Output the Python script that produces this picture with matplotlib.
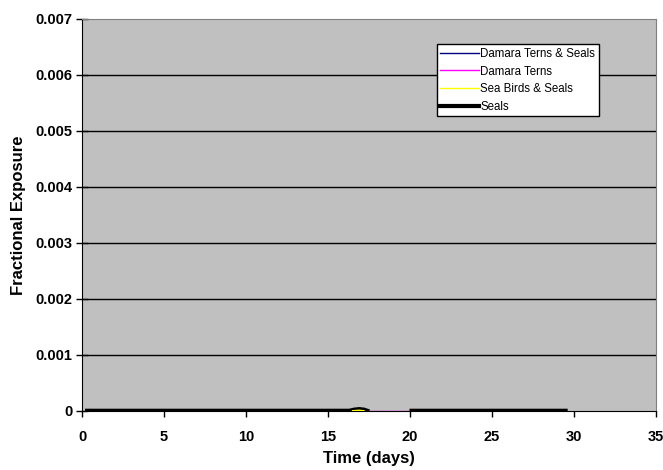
import matplotlib
matplotlib.use('Agg')
import matplotlib.pyplot as plt
import numpy as np

plt.rcParams['font.family'] = ['Liberation Sans', 'DejaVu Sans']

# Exposure series (days, fractional exposure)
dtsTime = [0.3, 16.3, 16.9, 17.3]
dtsVals = [0.0, 0.0, 0.00002, 0.0]
dtTime = [17.2, 20.1]
dtVals = [0.0, 0.0]
sbsTime = [16.5, 16.9, 17.2]
sbsVals = [0.0, 0.00001, 0.0]
sealTime = [0.3, 16.3, 16.6, 16.9, 17.2, 17.4, np.nan, 20.1, 29.5]
sealVals = [0.0, 0.0, 0.00002, 0.00003, 0.00002, 0.0, np.nan, 0.0, 0.0]

xTicks = [0, 5, 10, 15, 20, 25, 30, 35]
yTicks = [0, 0.001, 0.002, 0.003, 0.004, 0.005, 0.006, 0.007]
yLabels = ['0', '0.001', '0.002', '0.003', '0.004', '0.005', '0.006', '0.007']

fig = plt.figure(figsize=(6.63, 4.70), dpi=100)
ax = fig.add_axes([0.124, 0.126, 0.865, 0.834])
ax.set_facecolor('#C0C0C0')

# Horizontal gridlines
for yv in yTicks[1:-1]:
    ax.axhline(yv, color='black', lw=1.0, zorder=1)

ax.plot(dtsTime, dtsVals, color='#000080', lw=1.0, label='Damara Terns & Seals', zorder=3)
ax.plot(dtTime, dtVals, color='#FF00FF', lw=1.0, label='Damara Terns', zorder=3)
ax.plot(sealTime, sealVals, color='black', lw=3.0, label='Seals', zorder=4)
ax.plot(sbsTime, sbsVals, color='#FFFF00', lw=1.0, label='Sea Birds & Seals', zorder=5)

ax.set_xlim(0, 35)
ax.set_ylim(0, 0.007)
ax.set_xticks(xTicks)
ax.set_yticks(yTicks)
ax.set_yticklabels(yLabels)
ax.tick_params(axis='both', labelsize=10.5, direction='out', length=4, width=1, colors='black')
ax.tick_params(axis='x', pad=10)
ax.tick_params(axis='y', direction='inout', length=8, pad=3)
for lbl in ax.get_xticklabels() + ax.get_yticklabels():
    lbl.set_fontweight('bold')

ax.spines['left'].set_color('black')
ax.spines['bottom'].set_color('black')
ax.spines['top'].set_color('#808080')
ax.spines['right'].set_color('#808080')

ax.set_xlabel('Time (days)', fontsize=12, fontweight='bold', labelpad=5)
ax.set_ylabel('Fractional Exposure', fontsize=12, fontweight='bold', labelpad=7)

handles, labels = ax.get_legend_handles_labels()
order = [0, 1, 3, 2]
leg = ax.legend([handles[i] for i in order], [labels[i] for i in order],
                loc='upper left', bbox_to_anchor=(0.618, 0.935), fontsize=8.3,
                frameon=True, fancybox=False, edgecolor='black', framealpha=1,
                handlelength=3.4, handletextpad=0.1, borderpad=0.3, labelspacing=0.5,
                borderaxespad=0)
leg.get_frame().set_linewidth(1.0)

fig.savefig('out.png', dpi=100)
